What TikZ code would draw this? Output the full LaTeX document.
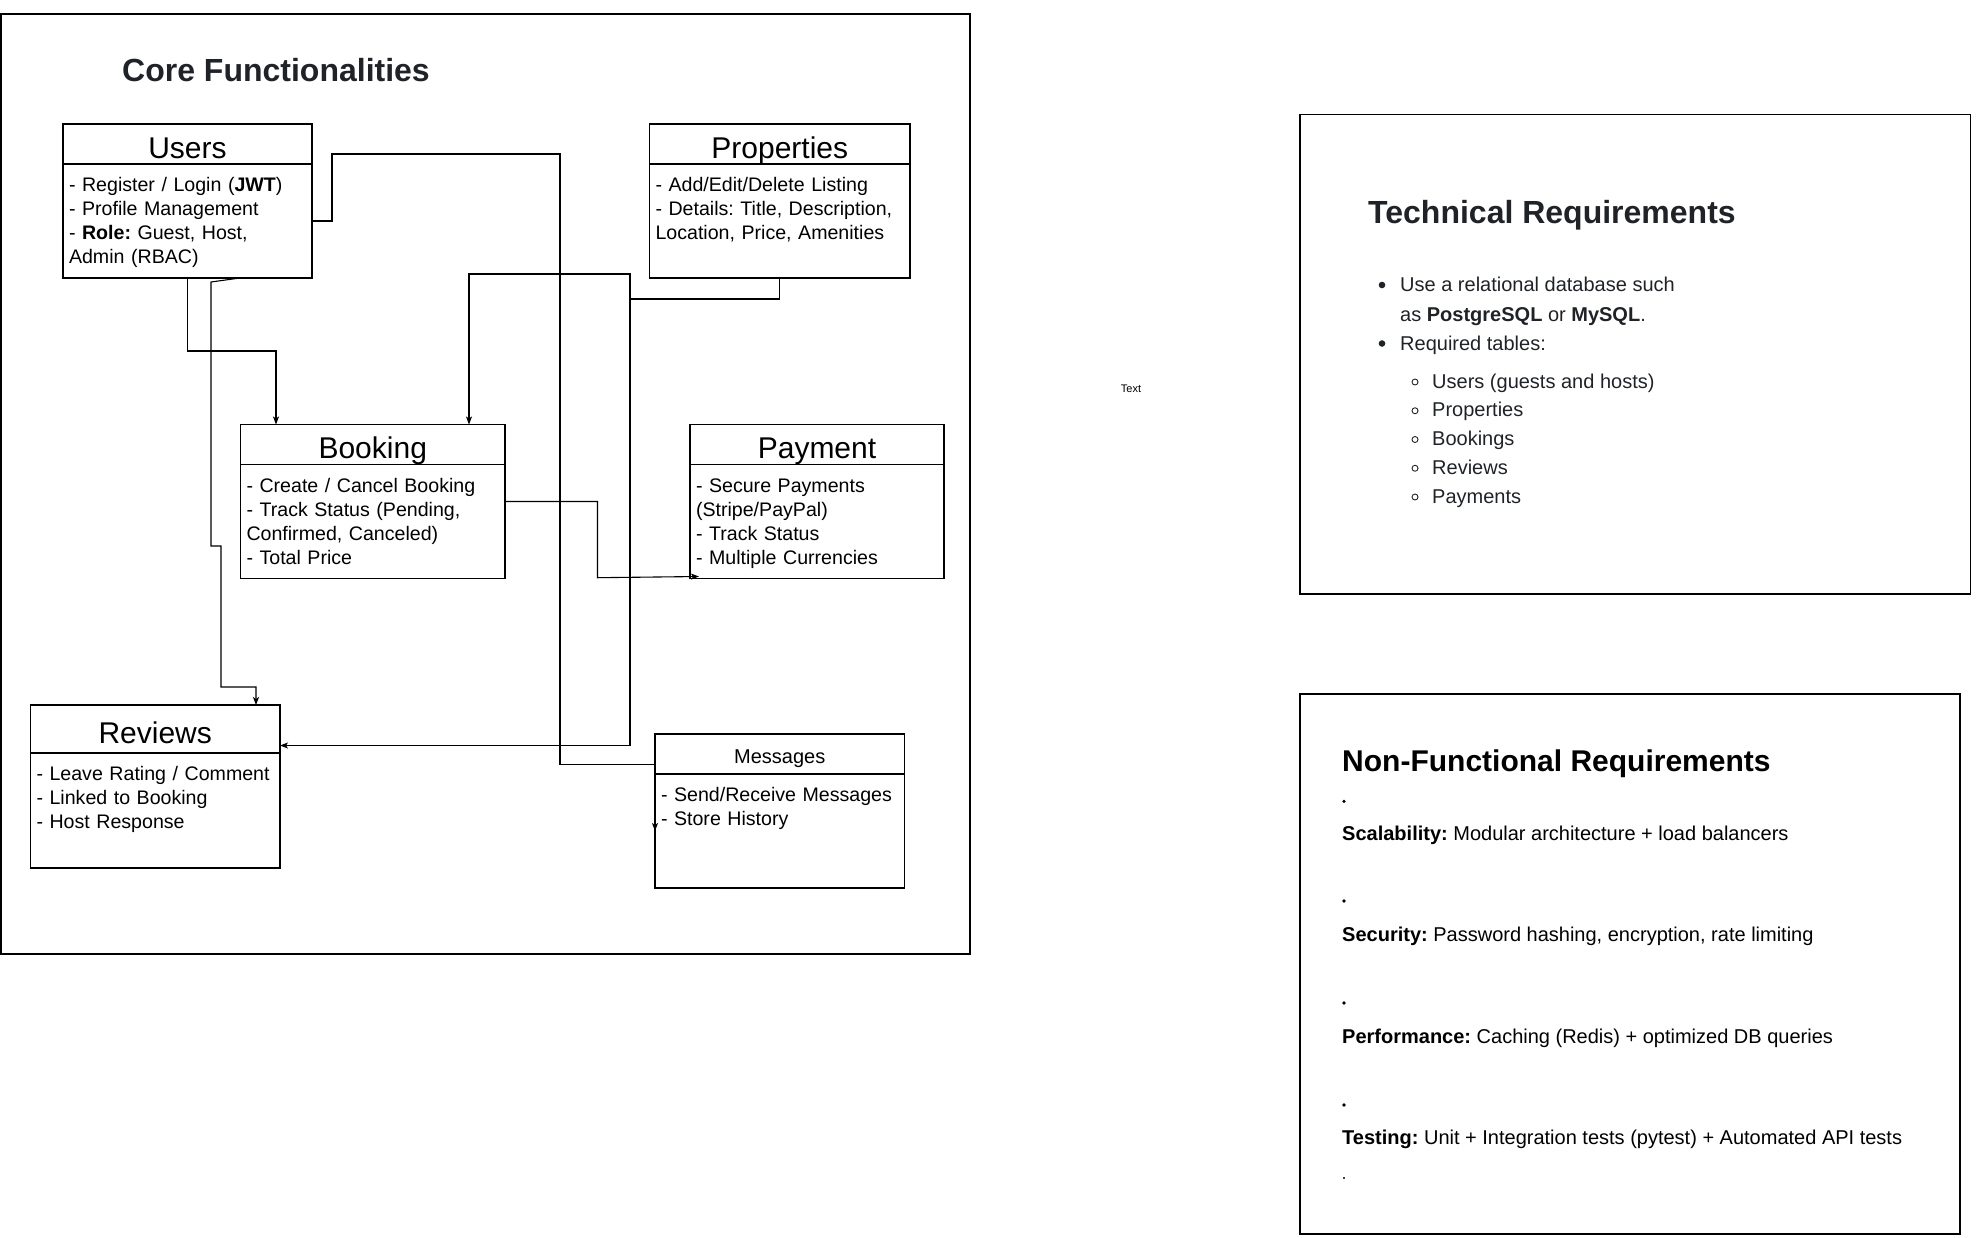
\documentclass[tikz,border=0pt]{standalone}
\usepackage{fontspec}
\setmainfont{Liberation Sans}
\usepackage{xcolor}
\usepackage{tikz}
\usetikzlibrary{arrows.meta,calc,positioning}

\definecolor{titlegray}{HTML}{1F2328}
\frenchspacing
\hyphenpenalty=10000

\tikzset{
  panel/.style={draw, line width=1.2pt, inner sep=0pt, outer sep=0pt, anchor=north west},
  boxhead/.style={draw, line width=1.3pt, inner sep=0pt, outer sep=0pt, minimum height=40pt,
    text height=31pt, text depth=3pt, anchor=north west, font=\fontsize{30}{36}\selectfont},
  boxbody/.style={draw, line width=1.3pt, outer sep=0pt, inner xsep=6pt, inner ysep=7pt,
    text height=20.5pt, text depth=79.5pt, align=left, anchor=north west,
    font=\fontsize{19.6}{24}\selectfont},
  link/.style={line width=1.1pt, -{Stealth[length=8pt,width=6pt,inset=2pt]}},
  techline/.style={anchor=base west, inner sep=0pt, text=titlegray, font=\fontsize{20}{24}\selectfont},
  nfline/.style={anchor=base west, inner sep=0pt, font=\fontsize{20}{24}\selectfont},
}

\begin{document}
\begin{tikzpicture}[x=1pt,y=-1pt]
  \useasboundingbox (0,0) rectangle (1981,1237);

  % core functionalities
  \node[panel, minimum width=969pt, minimum height=940pt] (core) at (1,14) {};
  \node[anchor=base west, inner sep=0pt, text=titlegray, font=\bfseries\fontsize{32}{38}\selectfont] (coretitle) at (122,81.5) {Core Functionalities};

  \node[boxhead, minimum width=249pt] (users) at (63,124) {Users};
  \node[boxbody, text width=237pt] (usersbody) at (users.south west) {- Register / Login (\textbf{JWT})\\- Profile Management\\- \textbf{Role:} Guest, Host,\\Admin (RBAC)};

  \node[boxhead, minimum width=260.5pt] (properties) at (649.5,124) {Properties};
  \node[boxbody, text width=248.5pt] (propertiesbody) at (properties.south west) {- Add/Edit/Delete Listing\\- Details: Title, Description,\\Location, Price, Amenities};

  \node[boxhead, minimum width=264.5pt] (booking) at (240.5,424.5) {Booking};
  \node[boxbody, text width=252.5pt] (bookingbody) at (booking.south west) {- Create / Cancel Booking\\- Track Status (Pending,\\Confirmed, Canceled)\\- Total Price};

  \node[boxhead, minimum width=254pt] (payment) at (690,424.5) {Payment};
  \node[boxbody, text width=242pt] (paymentbody) at (payment.south west) {- Secure Payments\\(Stripe/PayPal)\\- Track Status\\- Multiple Currencies};

  \node[boxhead, minimum width=249.5pt, minimum height=48pt] (reviews) at (30.5,705) {Reviews};
  \node[boxbody, text width=237.5pt, text depth=80.5pt] (reviewsbody) at (reviews.south west) {- Leave Rating / Comment\\- Linked to Booking\\- Host Response};

  \node[boxhead, minimum width=249.5pt, font=\fontsize{20}{24}\selectfont, text height=21pt, text depth=1.2pt] (messages) at (655,734) {Messages};
  \node[boxbody, text width=237.5pt] (messagesbody) at (messages.south west) {- Send/Receive Messages\\- Store History};

  % connectors
  \draw[link] (usersbody.east) -- ++(20,0) |- (560,154) |- (655,764.5) -- (messagesbody.west);
  \draw[link] (usersbody.south) |- (276,351) -- (276,351 |- booking.north);
  \draw[link] (usersbody.south -| 240,0) -- (211,282) |- (221,546) |- (256,687) -- (256,687 |- reviews.north);
  \draw[link] (propertiesbody.south) |- (630,299) |- (469,274) -- (469,274 |- booking.north);
  \draw[link] (propertiesbody.south) |- (630,299) -- (630,745.5) -- (reviews.east |- 630,745.5);
  \draw[link] ([yshift=-37pt]bookingbody.north east) -| (597.5,577.7) -- ([xshift=9pt,yshift=2pt]paymentbody.south west);

  \node[font=\fontsize{11}{13}\selectfont] (textlabel) at (1131,389) {Text};

  % technical requirements
  \node[panel, minimum width=670.7pt, minimum height=479.7pt] (techbox) at (1300,114.3) {};
  \node[anchor=base west, inner sep=0pt, text=titlegray, font=\bfseries\fontsize{32}{38}\selectfont] (techtitle) at (1368,223) {Technical Requirements};
  \fill[titlegray] (1382,285) circle (3.3pt);
  \node[techline] (tech1) at (1400,291.5) {Use a relational database such};
  \node[techline] (tech2) at (1400,321.5) {as \textbf{PostgreSQL} or \textbf{MySQL}.};
  \fill[titlegray] (1382,343.5) circle (3.3pt);
  \node[techline] (tech3) at (1400,350) {Required tables:};
  \foreach \t [count=\i] in {Users (guests and hosts),Properties,Bookings,Reviews,Payments} {
    \draw[titlegray, line width=0.9pt] (1415,{382+28.75*(\i-1)}) circle (3pt);
    \node[techline] (table\i) at (1432,{388+28.75*(\i-1)}) {\t};
  }

  % non-functional requirements
  \node[panel, minimum width=660pt, minimum height=540pt] (nfbox) at (1300,694) {};
  \node[anchor=base west, inner sep=0pt, font=\bfseries\fontsize{30}{36}\selectfont] (nftitle) at (1342,771) {Non-Functional Requirements};
  \foreach \y in {801.4,901,1003,1105} {\fill (1344,\y) circle (1.8pt);}
  \fill (1344,1178) circle (1.1pt);
  \node[nfline] (scal) at (1342,840.5) {\textbf{Scalability:} Modular architecture + load balancers};
  \node[nfline] (sec) at (1342,941.5) {\textbf{Security:} Password hashing, encryption, rate limiting};
  \node[nfline] (perf) at (1342,1043) {\textbf{Performance:} Caching (Redis) + optimized DB queries};
  \node[nfline] (test) at (1342,1144) {\textbf{Testing:} Unit + Integration tests (pytest) + Automated API tests};
\end{tikzpicture}
\end{document}
